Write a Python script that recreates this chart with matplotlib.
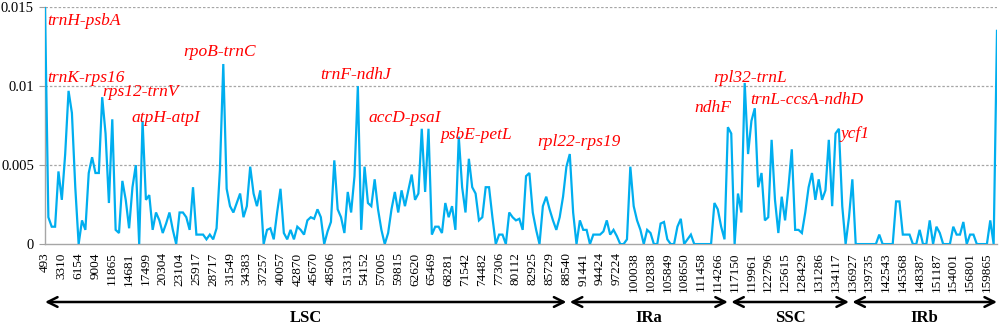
import matplotlib
matplotlib.use("Agg")
import matplotlib.pyplot as plt
import matplotlib.transforms as mtransforms

# Nucleotide diversity (Pi) per sliding window, in units of 0.001
pi_values = [
    15.0, 1.7, 1.1, 1.1, 4.6, 2.8, 5.7, 9.7, 8.3, 3.6,
    0.0, 1.5, 0.9, 4.5, 5.5, 4.5, 4.5, 9.3, 7.0, 2.6,
    7.9, 0.9, 0.7, 4.0, 2.8, 1.0, 3.6, 5.0, 0.0, 7.8,
    2.8, 3.1, 0.9, 2.0, 1.5, 0.7, 1.3, 2.0, 0.9, 0.0,
    2.0, 2.0, 1.7, 0.9, 3.6, 0.6, 0.6, 0.6, 0.3, 0.6,
    0.3, 1.0, 4.7, 11.4, 3.5, 2.4, 2.0, 2.6, 3.2, 1.7,
    2.4, 4.9, 3.2, 2.4, 3.4, 0.0, 0.9, 1.0, 0.3, 2.0,
    3.5, 0.7, 0.3, 0.9, 0.3, 1.1, 0.9, 0.6, 1.5, 1.7,
    1.6, 2.2, 1.7, 0.0, 0.8, 1.4, 5.3, 2.2, 1.7, 0.7,
    3.3, 2.0, 4.3, 10.0, 0.9, 4.9, 2.6, 2.4, 4.1, 2.2,
    0.9, 0.0, 0.7, 2.2, 3.3, 2.0, 3.4, 2.4, 3.4, 4.4,
    2.8, 3.2, 7.3, 3.3, 7.3, 0.6, 1.1, 1.1, 0.7, 2.6,
    1.7, 2.4, 0.9, 6.8, 3.6, 2.0, 5.4, 3.6, 3.2, 1.5,
    1.7, 3.6, 3.6, 1.7, 0.0, 0.6, 0.6, 0.0, 2.0, 1.7,
    1.5, 1.6, 0.9, 4.3, 4.5, 2.0, 0.9, 0.0, 2.4, 3.0,
    2.2, 1.5, 0.9, 1.7, 3.0, 4.9, 5.7, 2.0, 0.0, 1.5,
    0.9, 0.9, 0.0, 0.6, 0.6, 0.6, 0.8, 1.5, 0.6, 0.9,
    0.5, 0.0, 0.0, 0.3, 4.9, 2.4, 1.5, 0.9, 0.0, 0.9,
    0.7, 0.0, 0.0, 1.3, 1.4, 0.3, 0.0, 0.0, 1.1, 1.6,
    0.0, 0.3, 0.6, 0.0, 0.0, 0.0, 0.0, 0.0, 0.0, 2.6,
    2.2, 1.1, 0.3, 7.4, 7.0, 0.0, 3.2, 2.0, 10.2, 5.7,
    7.8, 8.6, 3.6, 4.5, 1.5, 1.7, 6.6, 2.8, 0.7, 3.0,
    1.5, 3.6, 6.0, 0.9, 0.9, 0.7, 2.0, 3.6, 4.5, 2.8,
    4.1, 2.8, 3.4, 6.6, 2.4, 7.0, 7.3, 2.4, 0.0, 1.7,
    4.1, 0.0, 0.0, 0.0, 0.0, 0.0, 0.0, 0.0, 0.6, 0.0,
    0.0, 0.0, 0.0, 2.7, 2.7, 0.6, 0.6, 0.6, 0.0, 0.0,
    0.9, 0.0, 0.0, 1.5, 0.0, 1.1, 0.7, 0.0, 0.0, 0.0,
    1.1, 0.6, 0.6, 1.4, 0.0, 0.6, 0.6, 0.0, 0.0, 0.0,
    0.0, 1.5, 0.0, 13.5,
]

tick_labels = [
    "493", "3310", "6154", "9004", "11865", "14681", "17499", "20304", "23104",
    "25917", "28717", "31549", "34383", "37257", "40057", "42870", "45670",
    "48506", "51331", "54152", "57005", "59815", "62620", "65469", "68281",
    "71542", "74482", "77306", "80112", "82925", "85729", "88540", "91441",
    "94424", "97224", "100038", "102838", "105849", "108650", "111458",
    "114266", "117150", "119961", "122796", "125615", "128429", "131286",
    "134117", "136927", "139735", "142543", "145368", "148387", "151187",
    "154001", "156801", "159865",
]
label_step = 5  # windows between labelled ticks

# Hotspot labels: (text, window index, Pi)
hotspot_names = ["trnH-psbA", "trnK-rps16", "rps12-trnV", "atpH-atpI", "rpoB-trnC",
                 "trnF-ndhJ", "accD-psaI", "psbE-petL", "rpl22-rps19", "ndhF",
                 "rpl32-trnL", "trnL-ccsA-ndhD", "ycf1"]
hotspot_x = [0.6, 0.6, 17.0, 25.6, 41.1, 81.8, 96.1, 117.3, 146.4, 192.9, 198.8, 209.5, 236.6]
hotspot_y = [14.1, 10.5, 9.6, 8.0, 12.15, 10.7, 8.0, 6.9, 6.45, 8.6, 10.5, 9.1, 7.0]

# Regions: (name, start index, end index)
region_names = ["LSC", "IRa", "SSC", "IRb"]
region_bounds = [0, 155.5, 203.5, 239.5, 283]

serif = ["Liberation Serif", "DejaVu Serif"]
plt.rcParams["font.family"] = serif

fig = plt.figure(figsize=(10, 3.25), dpi=100)
ax = fig.add_axes([0.045, 0.249, 0.952, 0.729])

xs = list(range(len(pi_values)))
ys = [v / 1000 for v in pi_values]
ax.plot(xs, ys, color="#00AEEF", linewidth=1.6, solid_joinstyle="miter", zorder=3)

ax.set_xlim(0, len(pi_values) - 1)
ax.set_ylim(0, 0.015)
ax.set_yticks([0, 0.005, 0.01, 0.015])
ax.set_yticklabels(["0", "0.005", "0.01", "0.015"], fontsize=10.5)
ax.set_xticks([i * label_step for i in range(len(tick_labels))])
ax.set_xticklabels(tick_labels, rotation=90, fontsize=9.5)
ax.tick_params(axis="x", length=0, pad=6)
ax.tick_params(axis="y", length=4, color="#A0A0A0", pad=4)

for y in [0.005, 0.01, 0.015]:
    ax.axhline(y, color="#A6A6A6", linestyle=(0, (2, 1.5)), linewidth=0.9, zorder=1)

for s in ["top", "right"]:
    ax.spines[s].set_visible(False)
ax.spines["left"].set_color("#A6A6A6")
ax.spines["bottom"].set_color("#A6A6A6")
ax.spines["left"].set_linewidth(1.0)
ax.spines["bottom"].set_linewidth(1.0)

for name, hx, hy in zip(hotspot_names, hotspot_x, hotspot_y):
    ax.text(hx, hy / 1000, name, color="#FF0000", style="italic", fontsize=12.5,
            ha="left", va="center", zorder=4)

trans = mtransforms.blended_transform_factory(ax.transData, fig.transFigure)
arrow_y = 1 - 302 / 325
label_y = 1 - 318 / 325
gap = 0.5
for k, name in enumerate(region_names):
    x0 = region_bounds[k] + (gap if k > 0 else 0)
    x1 = region_bounds[k + 1] - (gap if k < len(region_names) - 1 else 0)
    ax.annotate("", xy=(x0, arrow_y), xytext=(x1, arrow_y), xycoords=trans,
                textcoords=trans,
                arrowprops=dict(arrowstyle="<->,head_length=0.7,head_width=0.35",
                                color="black", lw=1.8, shrinkA=0, shrinkB=0),
                annotation_clip=False)
    ax.text((x0 + x1) / 2, label_y, name, transform=trans, ha="center", va="center",
            fontsize=12, fontweight="bold")

fig.savefig("out.png", dpi=100)
